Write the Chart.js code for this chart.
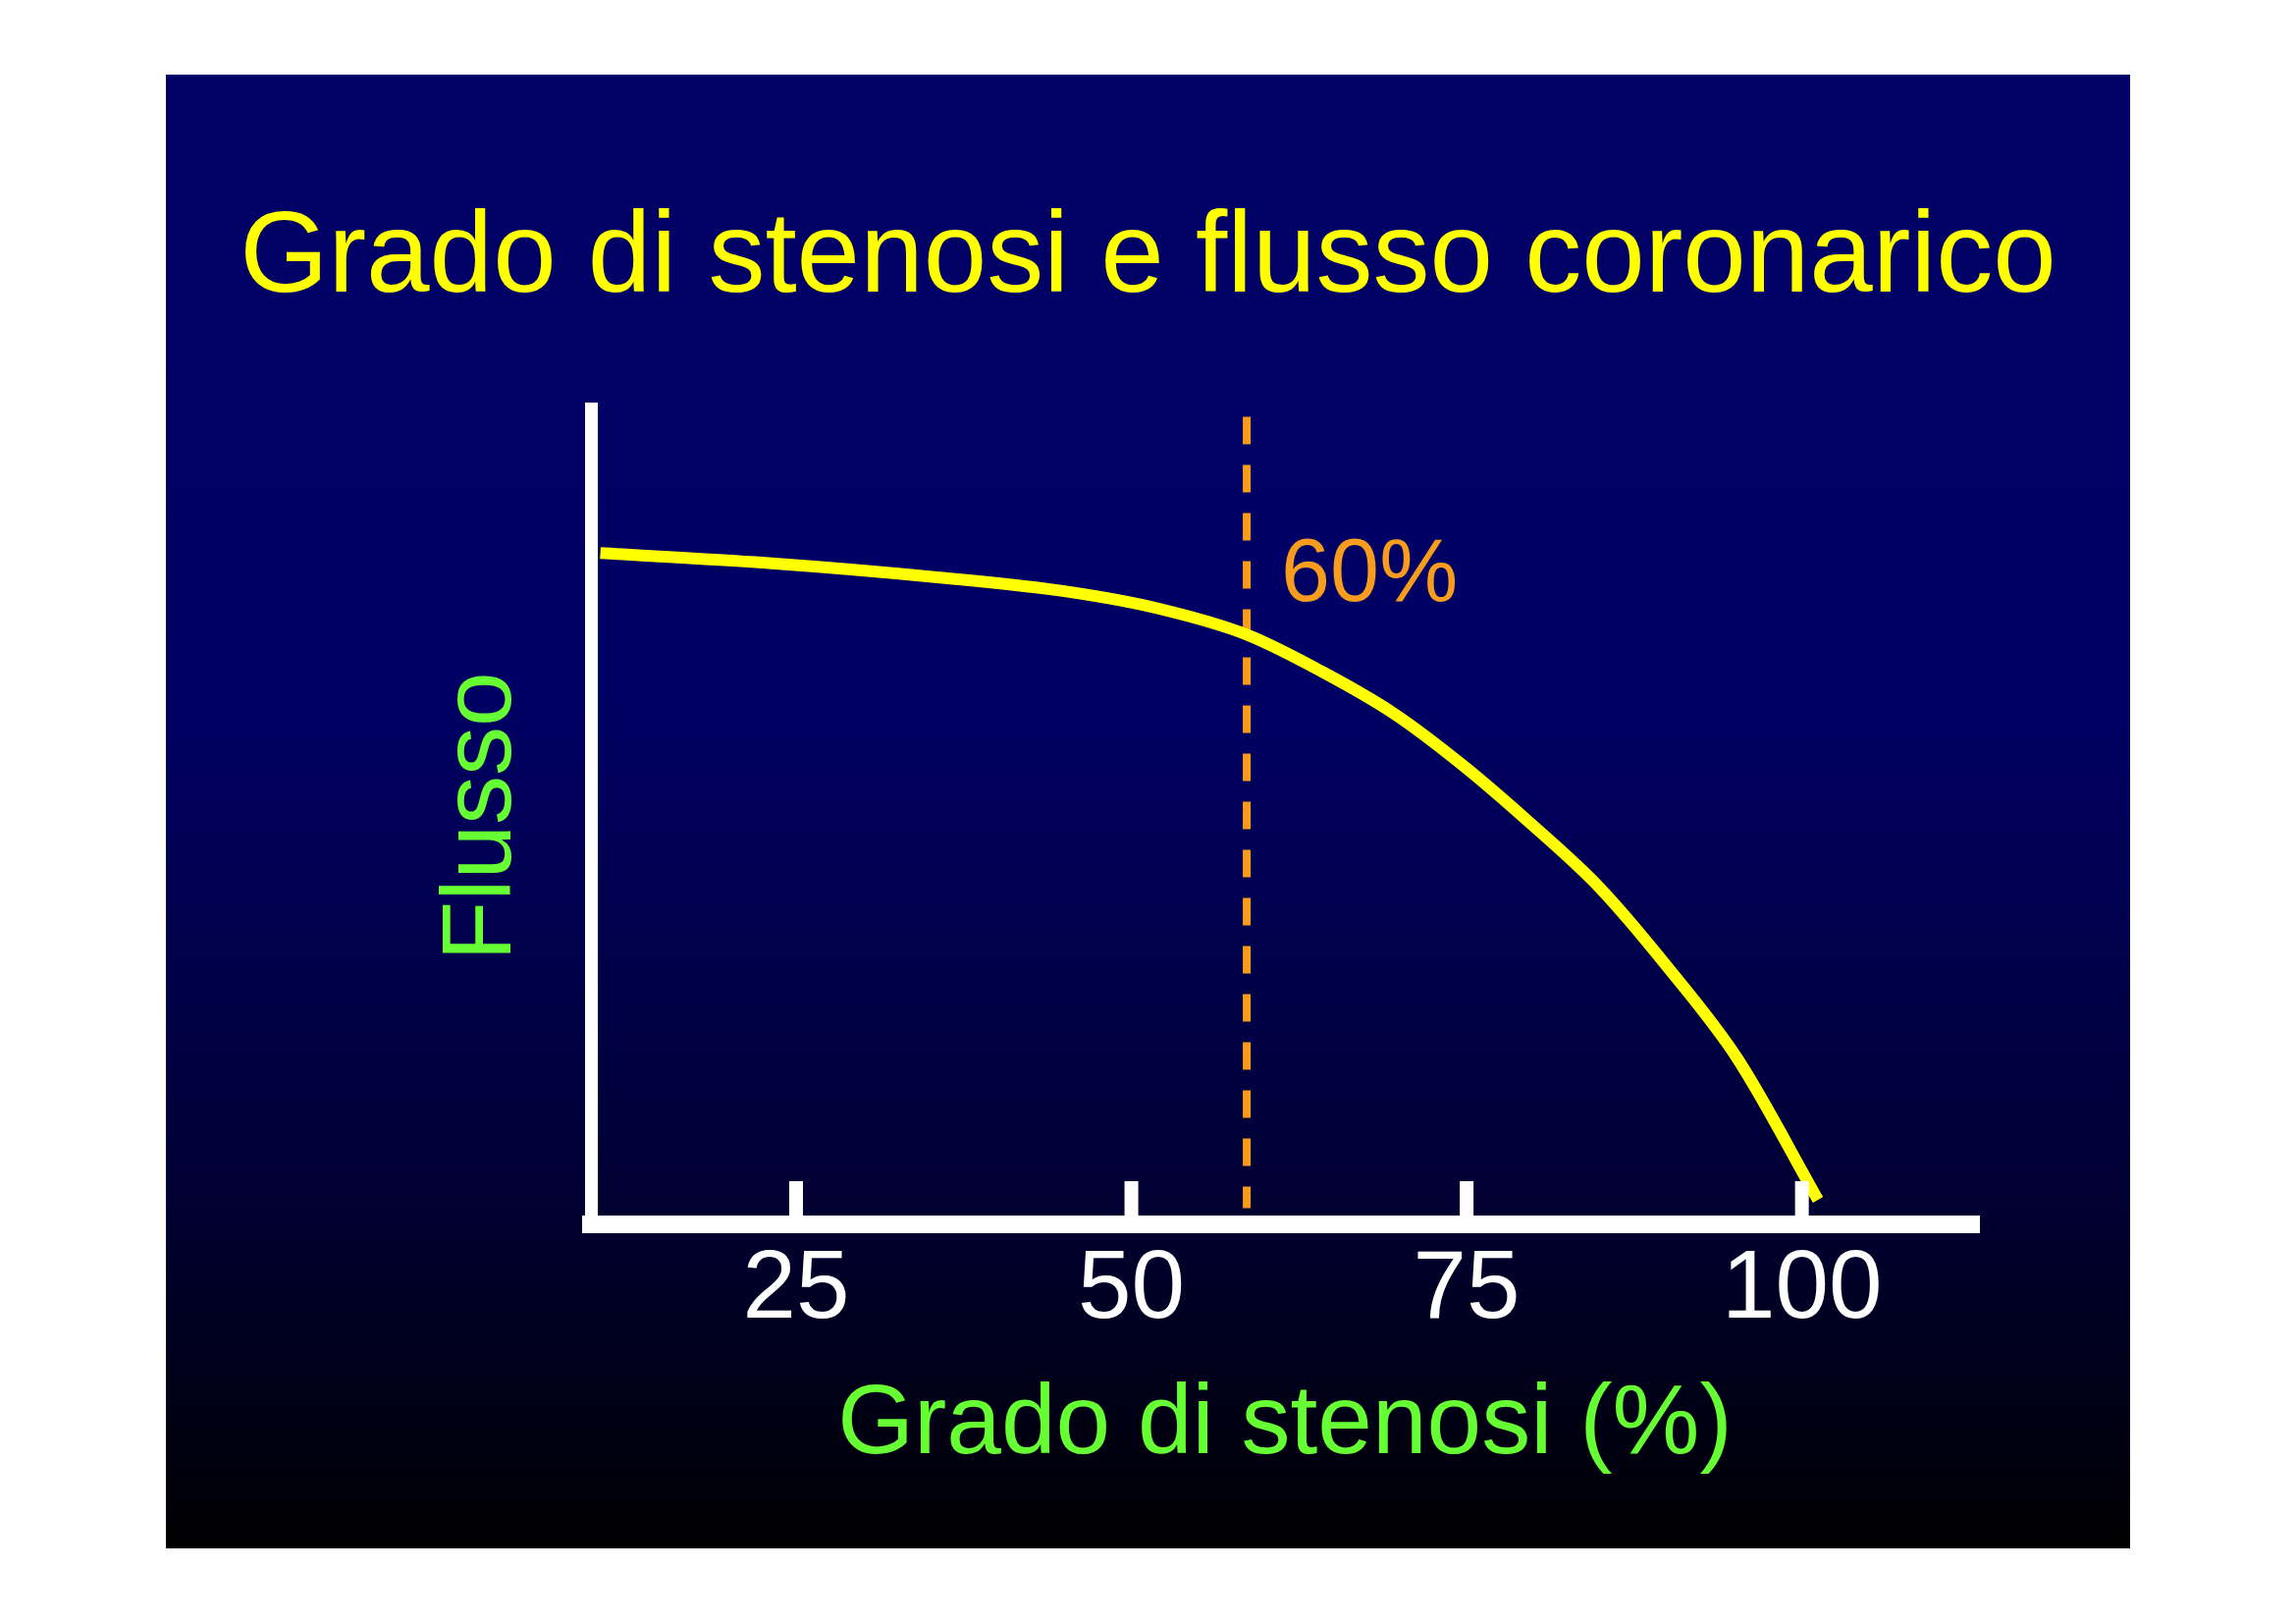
<!DOCTYPE html>
<html>
<head>
<meta charset="utf-8">
<script src="https://cdn.jsdelivr.net/npm/chart.js@4/dist/chart.umd.min.js"></script>
<style>
  html, body { margin: 0; padding: 0; background: #ffffff; }
  #wrap { position: relative; width: 2339px; height: 1653px; }
  canvas { display: block; }
</style>
</head>
<body>
<div id="wrap"><canvas id="c" width="2339" height="1653"></canvas></div>
<script>
// ---- data ----
const chartTitle = "Grado di stenosi e flusso coronarico";
const xAxisTitle = "Grado di stenosi (%)";
const yAxisTitle = "Flusso";
const stenosis = [10.4, 22.7, 35.7, 45.5, 52.0, 58.6, 64.4, 69.6, 74.7, 79.8, 84.9, 90.0, 95.2, 101.2];
const flow     = [82.3, 81.1, 79.3, 77.5, 75.5, 72.3, 67.6, 62.6, 56.3, 49.1, 41.3, 31.5, 20.3, 3.0];
const tickValues = [25, 50, 75, 100];
const thresholdX = 58.6;
const thresholdSpan = [99, 2];
const thresholdLabel = "60%";
const thresholdLabelY = 76.4;

const FONT = "'Liberation Sans', Arial, Helvetica, sans-serif";
const YELLOW = '#ffff00';
const GREEN = '#66ff33';
const ORANGE = '#f79c1c';

const curveData = stenosis.map((x, i) => ({x: x, y: flow[i]}));
const thresholdData = thresholdSpan.map(y => ({x: thresholdX, y: y}));

const slidePlugin = {
  id: 'slide',
  beforeDraw(chart) {
    const ctx = chart.ctx;
    ctx.save();
    ctx.fillStyle = '#ffffff';
    ctx.fillRect(0, 0, chart.width, chart.height);
    const top = 76, bottom = 1577;
    const g = ctx.createLinearGradient(0, top, 0, bottom);
    g.addColorStop(0, '#000066');
    g.addColorStop(0.42, '#000064');
    g.addColorStop(0.75, '#000035');
    g.addColorStop(0.97, '#000008');
    g.addColorStop(1, '#000000');
    ctx.fillStyle = g;
    ctx.fillRect(169, top, 2170 - 169, bottom - top);
    ctx.restore();
  }
};

const marksPlugin = {
  id: 'marks',
  afterDraw(chart) {
    const ctx = chart.ctx;
    const xs = chart.scales.x, ys = chart.scales.y;
    ctx.save();
    // upward tick marks
    ctx.fillStyle = '#ffffff';
    const base = chart.chartArea.bottom - 9;
    tickValues.forEach(v => {
      const px = xs.getPixelForValue(v);
      ctx.fillRect(px - 7, base - 35, 14, 35);
    });
    // threshold label
    ctx.fillStyle = ORANGE;
    ctx.font = '90px ' + FONT;
    ctx.textAlign = 'left';
    ctx.textBaseline = 'alphabetic';
    ctx.fillText(thresholdLabel, xs.getPixelForValue(thresholdX) + 35, ys.getPixelForValue(thresholdLabelY));
    ctx.restore();
  }
};

new Chart(document.getElementById('c'), {
  type: 'line',
  data: {
    datasets: [
      {
        label: 'Soglia',
        data: thresholdData,
        borderColor: ORANGE,
        borderWidth: 8,
        borderDash: [28, 21],
        borderCapStyle: 'butt',
        pointRadius: 0,
        tension: 0,
        fill: false,
        clip: false,
        order: 2
      },
      {
        label: 'Flusso',
        data: curveData,
        borderColor: YELLOW,
        borderWidth: 12,
        borderCapStyle: 'butt',
        borderJoinStyle: 'round',
        cubicInterpolationMode: 'monotone',
        pointRadius: 0,
        fill: false,
        clip: false,
        order: 1
      }
    ]
  },
  options: {
    responsive: false,
    animation: false,
    devicePixelRatio: 1,
    layout: { padding: { left: 0, right: 0, top: 0, bottom: 0 } },
    plugins: {
      legend: { display: false },
      tooltip: { enabled: false },
      title: {
        display: true,
        text: chartTitle,
        color: YELLOW,
        font: { family: FONT, size: 116, weight: 'normal', lineHeight: 1.2 },
        padding: { top: 195, bottom: 82 }
      }
    },
    scales: {
      x: {
        type: 'linear',
        min: 9.7,
        max: 113.2,
        afterFit(scale) { scale.height = 406; },
        afterBuildTicks(scale) { scale.ticks = tickValues.map(v => ({ value: v })); },
        grid: { display: false, drawTicks: false },
        border: { display: true, color: '#ffffff', width: 18 },
        ticks: {
          color: '#ffffff',
          font: { family: FONT, size: 98, lineHeight: 1.2 },
          padding: 9,
          maxRotation: 0,
          autoSkip: false
        },
        title: {
          display: true,
          text: xAxisTitle,
          color: GREEN,
          font: { family: FONT, size: 100, lineHeight: 1.2 },
          padding: { top: 0, bottom: 141 }
        }
      },
      y: {
        type: 'linear',
        min: 0,
        max: 100,
        afterFit(scale) { scale.width = 602; },
        grid: { display: false, drawTicks: false },
        border: { display: true, color: '#ffffff', width: 13 },
        ticks: { display: false },
        title: {
          display: true,
          text: yAxisTitle,
          color: GREEN,
          font: { family: FONT, size: 100, lineHeight: 1.2 },
          padding: { top: 432, bottom: 0 }
        }
      },
      yRight: {
        type: 'linear',
        position: 'right',
        min: 0,
        max: 100,
        afterFit(scale) { scale.width = 323; },
        grid: { display: false, drawTicks: false },
        border: { display: false },
        ticks: { display: false }
      }
    }
  },
  plugins: [slidePlugin, marksPlugin]
});
</script>
</body>
</html>
